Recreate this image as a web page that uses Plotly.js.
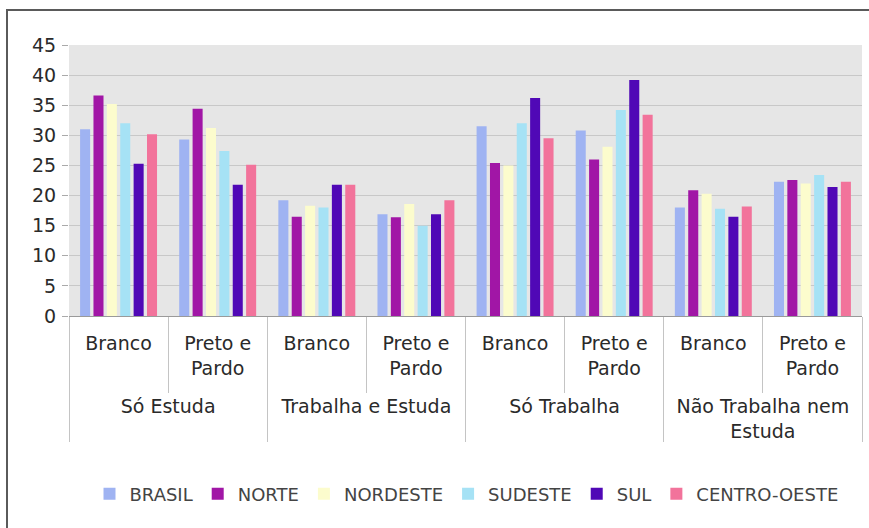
<!DOCTYPE html>
<html>
<head>
<meta charset="utf-8">
<script src="https://cdn.plot.ly/plotly-3.0.1.min.js"></script>
<style>html,body{margin:0;padding:0;background:#fff;}#chart{width:869px;height:528px;}</style>
</head>
<body>
<div id="chart"></div>
<script>
// Categories (outer: situação, inner: cor/raça)
const outerCats = ["<br>Só Estuda", "<br>Só Estuda", "<br>Trabalha e Estuda", "<br>Trabalha e Estuda",
                   "<br>Só Trabalha", "<br>Só Trabalha", "<br>Não Trabalha nem<br>Estuda", "<br>Não Trabalha nem<br>Estuda"];
const innerCats = ["Branco", "Preto e<br>Pardo", "Branco", "Preto e<br>Pardo",
                   "Branco", "Preto e<br>Pardo", "Branco", "Preto e<br>Pardo"];

// Series values (%)
const brasil      = [31.0, 29.3, 19.2, 16.9, 31.5, 30.8, 18.0, 22.3];
const norte       = [36.6, 34.4, 16.5, 16.4, 25.4, 26.0, 20.9, 22.6];
const nordeste    = [35.2, 31.2, 18.3, 18.6, 25.0, 28.1, 20.3, 22.0];
const sudeste     = [32.0, 27.4, 18.0, 15.0, 32.0, 34.2, 17.8, 23.4];
const sul         = [25.3, 21.8, 21.8, 16.9, 36.2, 39.2, 16.5, 21.4];
const centroOeste = [30.2, 25.1, 21.8, 19.2, 29.5, 33.4, 18.2, 22.3];

const seriesNames = ["BRASIL", "NORTE", "NORDESTE", "SUDESTE", "SUL", "CENTRO-OESTE"];
const seriesValues = [brasil, norte, nordeste, sudeste, sul, centroOeste];
const seriesColors = ["#9fb3f2", "#a116a6", "#fcfccd", "#a6e2f5", "#5008b6", "#f2739b"];

const traces = seriesNames.map((name, i) => ({
  type: "bar",
  name: name,
  x: [outerCats, innerCats],
  y: seriesValues[i],
  marker: {color: seriesColors[i], line: {width: 0}},
  hoverinfo: "y+name"
}));

// helpers to place frame lines in paper coords
const L = 69, R = 862, T = 45, B = 316;
const px2x = p => (p - L) / (R - L);
const py2y = p => (B - p) / (B - T);

const layout = {
  width: 869, height: 528,
  margin: {l: L, r: 869 - R, t: T, b: 528 - B, pad: 0},
  paper_bgcolor: "#ffffff",
  plot_bgcolor: "#e6e6e6",
  font: {family: "DejaVu Sans, Arial, sans-serif", size: 19, color: "#2a2a2a"},
  barmode: "group",
  bargap: 0.19,
  bargroupgap: 0.25,
  showlegend: true,
  legend: {
    orientation: "h",
    xref: "container", yref: "container",
    x: 0.103, xanchor: "left",
    y: 1 - 494 / 528, yanchor: "middle",
    font: {size: 18, color: "#444"},
    bgcolor: "rgba(0,0,0,0)",
    itemclick: false
  },
  xaxis: {
    type: "multicategory",
    showline: true, linecolor: "#9a9a9a", linewidth: 1,
    ticks: "outside", tickson: "boundaries", ticklen: 76, tickcolor: "#c4c4c4", tickwidth: 1,
    ticklabelstandoff: 10,
    showdividers: true, dividercolor: "#c4c4c4", dividerwidth: 1,
    tickfont: {size: 19, color: "#2a2a2a"},
    showgrid: false
  },
  yaxis: {
    range: [0, 45],
    dtick: 5,
    tick0: 0,
    showgrid: true, gridcolor: "#c8c8c8", gridwidth: 1,
    zeroline: false,
    showline: false,
    ticks: "outside", ticklen: 6, tickcolor: "#aaaaaa",
    ticklabelstandoff: 2,
    tickfont: {size: 19, color: "#2a2a2a"}
  },
  shapes: [
    {type: "line", xref: "paper", yref: "paper", x0: px2x(7), x1: px2x(7), y0: py2y(10), y1: py2y(530),
     line: {color: "#5a5a5a", width: 2}},
    {type: "line", xref: "paper", yref: "paper", x0: px2x(6), x1: px2x(870), y0: py2y(10), y1: py2y(10),
     line: {color: "#5a5a5a", width: 2}}
  ]
};

Plotly.newPlot("chart", traces, layout, {displayModeBar: false, staticPlot: true});
</script>
</body>
</html>
